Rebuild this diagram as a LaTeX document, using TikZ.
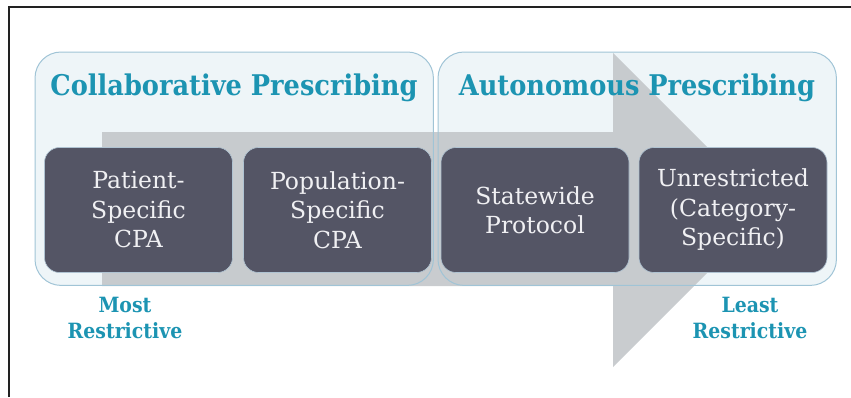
\documentclass[tikz,border=0pt]{standalone}
\usepackage{fontspec}
\setmainfont{DejaVu Serif}
\newfontfamily\condfont{DejaVu Serif Condensed}
\definecolor{framec}{RGB}{34,34,34}
\definecolor{tealc}{RGB}{28,148,178}
\definecolor{groupfill}{RGB}{238,245,248}
\definecolor{groupline}{RGB}{160,196,214}
\definecolor{arrowc}{RGB}{196,200,203}
\definecolor{boxc}{RGB}{84,85,101}
\definecolor{boxtext}{RGB}{240,240,243}
\tikzset{
  groupbox/.style={fill=groupfill, draw=none, rounded corners=26pt, minimum width=398pt, minimum height=233pt, inner sep=0pt, anchor=north west},
  grouprim/.style={draw=groupline, line width=1pt, rounded corners=26pt},
  darkbox/.style={fill=boxc, draw={rgb,255:red,175;green,195;blue,210}, line width=0.6pt, rounded corners=15pt, minimum width=188pt, minimum height=125pt, inner sep=0pt, align=center, text=boxtext, font=\fontsize{23.5}{29.5}\selectfont},
  titletext/.style={text=tealc, inner sep=0pt, anchor=base, font=\condfont\bfseries\fontsize{28.5}{32}\selectfont},
  endlabel/.style={text=tealc, inner sep=0pt, align=center, font=\condfont\bfseries\fontsize{21}{26}\selectfont},
}
\begin{document}
\begin{tikzpicture}[x=1pt,y=-1pt]
\useasboundingbox (0,0) rectangle (851,397);
% frame
\draw[framec, line width=2pt] (9,397) -- (9,7) -- (851,7);
% group backgrounds
\node[groupbox] (g1) at (35,52) {};
\node[groupbox] (g2) at (438,52) {};
% big arrow
\fill[arrowc, fill opacity=0.92] (102,132) -- (613,132) -- (613,53) -- (770,210) -- (613,367) -- (613,286) -- (102,286) -- cycle;
% group rims
\draw[grouprim] (g1.north west) rectangle (g1.south east);
\draw[grouprim] (g2.north west) rectangle (g2.south east);
% titles
\node[titletext] (t1) at (234,95) {Collaborative Prescribing};
\node[titletext] (t2) at (637,95) {Autonomous Prescribing};
% dark boxes
\node[darkbox] (b1) at (138.5,210) {Patient-\\Specific\\CPA};
\node[darkbox] (b2) at (337.5,210) {Population-\\Specific\\CPA};
\node[darkbox] (b3) at (535,210) {Statewide\\Protocol};
\node[darkbox] (b4) at (733,210) {Unrestricted\\(Category-\\Specific)};
% end labels
\node[endlabel] (most) at (125,318) {Most\\Restrictive};
\node[endlabel] (least) at (750,318) {Least\\Restrictive};
\end{tikzpicture}
\end{document}
